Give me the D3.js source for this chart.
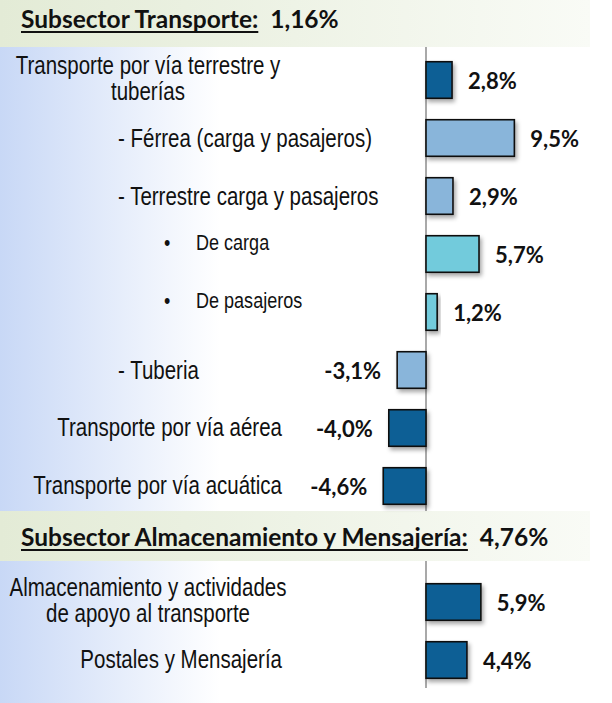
<!DOCTYPE html>
<html>
<head>
<meta charset="utf-8">
<script src="https://cdn.jsdelivr.net/npm/d3@7"></script>
<style>
  html, body { margin: 0; padding: 0; background: #fff; }
</style>
</head>
<body>
<div id="canvas"></div>
<script>
// rows of the chart, top to bottom
var categories = [
    ["Transporte por vía terrestre y", "tuberías"],
    ["- Férrea (carga y pasajeros)"],
    ["- Terrestre carga y pasajeros"],
    ["De carga"],
    ["De pasajeros"],
    ["- Tuberia"],
    ["Transporte por vía aérea"],
    ["Transporte por vía acuática"],
    ["Almacenamiento y actividades", "de apoyo al transporte"],
    ["Postales y Mensajería"]
];
var values = [2.8, 9.5, 2.9, 5.7, 1.2, -3.1, -4.0, -4.6, 5.9, 4.4];
var levels = [0, 1, 1, 2, 2, 1, 0, 0, 0, 0];
var sectionOf = [0, 0, 0, 0, 0, 0, 0, 0, 1, 1];

var sections = ["Subsector Transporte:", "Subsector Almacenamiento y Mensajería:"];
var sectionValues = [1.16, 4.76];

var width = 612, height = 703;

var locale = d3.formatLocale({ decimal: ",", thousands: ".", grouping: [3], currency: ["", ""], minus: "-" });
var fmt1 = locale.format(".1f");
var fmt2 = locale.format(".2f");

var svg = d3.select('#canvas').append('svg')
    .attr('width', width)
    .attr('height', height);

var defs = svg.append('defs');

var blueGrad = defs.append('linearGradient').attr('id', 'bgBlue')
    .attr('x1', 0).attr('x2', 1).attr('y1', 0).attr('y2', 0);
blueGrad.append('stop').attr('offset', '0%').attr('stop-color', '#c8d8f6');
blueGrad.append('stop').attr('offset', '36%').attr('stop-color', '#ffffff');

var greenGrad = defs.append('linearGradient').attr('id', 'bgGreen')
    .attr('x1', 0).attr('x2', 1).attr('y1', 0).attr('y2', 0);
greenGrad.append('stop').attr('offset', '0%').attr('stop-color', '#e3ebd6');
greenGrad.append('stop').attr('offset', '100%').attr('stop-color', '#f9fbf6');

var shadow = defs.append('filter').attr('id', 'shadow')
    .attr('x', '-20%').attr('y', '-20%').attr('width', '150%').attr('height', '160%');
shadow.append('feDropShadow')
    .attr('dx', 2).attr('dy', 3)
    .attr('stdDeviation', 2)
    .attr('flood-color', '#000')
    .attr('flood-opacity', 0.35);

// background
svg.append('rect')
    .attr('width', width).attr('height', height)
    .attr('fill', 'url(#bgBlue)');

// row keys, with a slot for the second section header
var rowKeys = [];
values.forEach(function(v, i) {
    if (i > 0 && sectionOf[i] !== sectionOf[i - 1]) rowKeys.push('sec' + sectionOf[i]);
    rowKeys.push('r' + i);
});

var x = d3.scaleLinear()
    .domain([-5, 10])
    .range([379.5, 519]);

var y = d3.scaleBand()
    .domain(rowKeys)
    .range([51, 689])
    .paddingInner(0.37)
    .paddingOuter(0.185);

var color = d3.scaleOrdinal()
    .domain([0, 1, 2])
    .range(['#075f95', '#89b5da', '#72cbdc']);

// section header bands
var headerBands = [[0, 47, 28], [511, 561, 546]];
var headers = svg.selectAll('.header')
    .data(sections)
    .enter()
    .append('g')
    .attr('class', 'header');

headers.append('rect')
    .attr('x', 0)
    .attr('y', function(d, i) { return headerBands[i][0]; })
    .attr('width', 590)
    .attr('height', function(d, i) { return headerBands[i][1] - headerBands[i][0]; })
    .attr('fill', 'url(#bgGreen)');

headers.each(function(d, i) {
    var g = d3.select(this);
    var t = g.append('text')
        .attr('x', 21)
        .attr('y', headerBands[i][2])
        .attr('font-family', 'Lato, sans-serif')
        .attr('font-weight', 'bold')
        .attr('font-size', 24.5)
        .attr('fill', '#111');
    var name = t.append('tspan').text(d);
    t.append('tspan').text('\u00a0\u00a0' + fmt2(sectionValues[i]) + '%');
    var w = name.node().getComputedTextLength();
    g.append('line')
        .attr('x1', 21).attr('x2', 21 + w)
        .attr('y1', headerBands[i][2] + 4).attr('y2', headerBands[i][2] + 4)
        .attr('stroke', '#111')
        .attr('stroke-width', 1.8);
});

// zero line, broken by the second header band
var axisSegments = [[47, 511], [561, 688]];
svg.selectAll('.zero')
    .data(axisSegments)
    .enter()
    .append('line')
    .attr('class', 'zero')
    .attr('x1', x(0)).attr('x2', x(0))
    .attr('y1', function(d) { return d[0]; })
    .attr('y2', function(d) { return d[1]; })
    .attr('stroke', '#8c8c8c')
    .attr('stroke-width', 1.5);

var rows = svg.selectAll('.row')
    .data(values)
    .enter()
    .append('g')
    .attr('class', 'row');

rows.append('rect')
    .attr('x', function(d) { return x(Math.min(0, d)); })
    .attr('y', function(d, i) { return y('r' + i); })
    .attr('width', function(d) { return Math.abs(x(d) - x(0)); })
    .attr('height', y.bandwidth())
    .attr('fill', function(d, i) { return color(levels[i]); })
    .attr('stroke', '#111')
    .attr('stroke-width', 1.6)
    .attr('filter', 'url(#shadow)');

// value labels
rows.append('text')
    .attr('x', function(d) { return d >= 0 ? x(d) + 16 : x(d) - 16; })
    .attr('y', function(d, i) { return y('r' + i) + y.bandwidth() / 2 + 8.5; })
    .attr('text-anchor', function(d) { return d >= 0 ? 'start' : 'end'; })
    .attr('font-family', 'Lato, sans-serif')
    .attr('font-weight', 'bold')
    .attr('font-size', 22)
    .attr('fill', '#111')
    .text(function(d) { return fmt1(d) + '%'; });

// category labels: narrow sans made by squeezing Liberation Sans
var sx = 0.82;
var catFont = '"Liberation Sans", Arial, sans-serif';
var labels = svg.append('g')
    .attr('transform', 'scale(' + sx + ',1)');

categories.forEach(function(lines, i) {
    var cy = y('r' + i) + y.bandwidth() / 2;
    var lv = levels[i];
    var t = labels.append('text')
        .attr('font-family', catFont)
        .attr('fill', '#111');
    if (lv === 0) {
        t.attr('font-size', 25);
        if (lines.length > 1) {
            t.attr('text-anchor', 'middle');
            lines.forEach(function(l, k) {
                t.append('tspan')
                    .attr('x', 148 / sx)
                    .attr('y', cy - 6 + k * 26)
                    .text(l);
            });
        } else {
            t.attr('text-anchor', 'end')
                .attr('x', 282 / sx).attr('y', cy + 8)
                .text(lines[0]);
        }
    } else if (lv === 1) {
        t.attr('font-size', 25)
            .attr('x', 118 / sx).attr('y', cy + 9)
            .text(lines[0]);
    } else {
        t.attr('font-size', 22)
            .attr('x', 196 / sx).attr('y', cy - 4)
            .text(lines[0]);
        labels.append('text')
            .attr('font-family', catFont)
            .attr('font-size', 22)
            .attr('x', 164 / sx).attr('y', cy - 4)
            .attr('fill', '#111')
            .text('\u2022');
    }
});
</script>
</body>
</html>
